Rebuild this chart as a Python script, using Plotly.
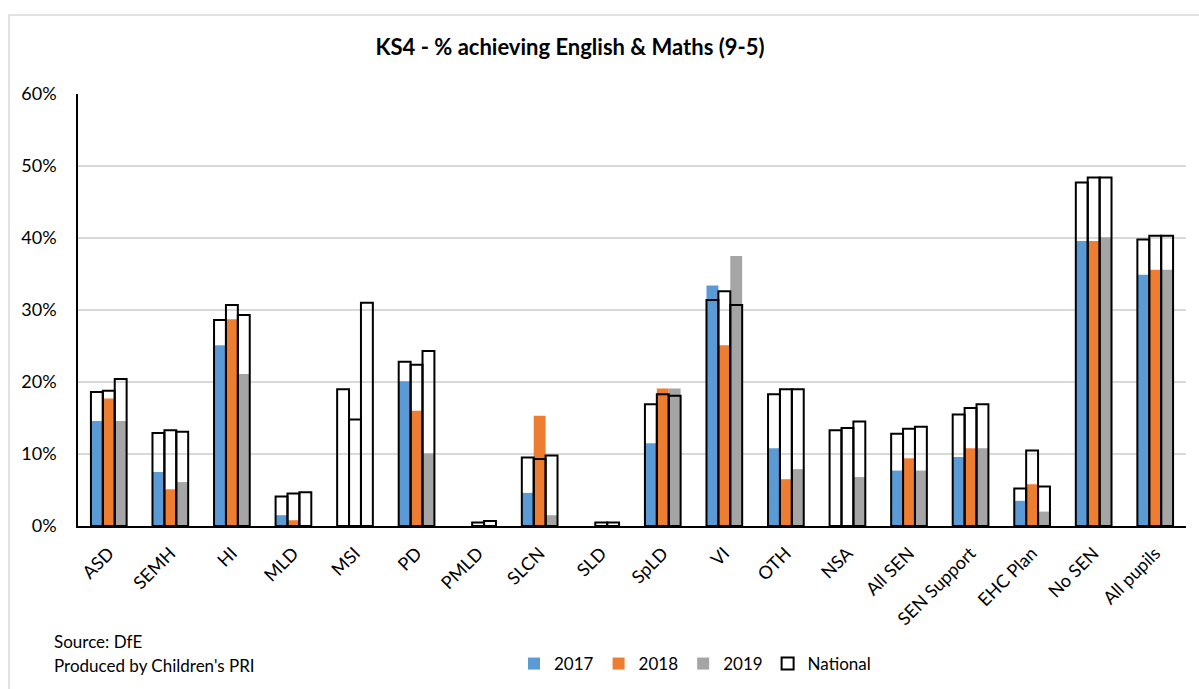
import plotly.graph_objects as go

categories = ["ASD", "SEMH", "HI", "MLD", "MSI", "PD", "PMLD", "SLCN", "SLD", "SpLD",
              "VI", "OTH", "NSA", "All SEN", "SEN Support", "EHC Plan", "No SEN", "All pupils"]

y2017 = [14.6, 7.5, 25.1, 1.5, None, 20.1, None, 4.6, None, 11.5, 33.4, 10.8, None, 7.7, 9.6, 3.5, 39.6, 34.9]
y2018 = [17.7, 5.1, 28.7, 0.8, None, 16.0, None, 15.3, None, 19.1, 25.1, 6.5, None, 9.4, 10.8, 5.8, 39.6, 35.6]
y2019 = [14.6, 6.1, 21.1, None, None, 10.1, None, 1.5, None, 19.1, 37.5, 7.9, 6.8, 7.7, 10.8, 2.0, 40.1, 35.6]
nat2017 = [18.6, 12.9, 28.6, 4.1, 19.0, 22.8, None, 9.5, None, 16.9, 31.4, 18.3, 13.3, 12.8, 15.5, 5.2, 47.7, 39.8]
nat2018 = [18.8, 13.3, 30.7, 4.5, 14.8, 22.4, 0.5, 9.3, 0.5, 18.3, 32.6, 19.0, 13.6, 13.5, 16.4, 10.5, 48.4, 40.3]
nat2019 = [20.4, 13.1, 29.3, 4.7, 31.0, 24.3, 0.7, 9.8, 0.5, 18.1, 30.7, 19.0, 14.5, 13.8, 16.9, 5.5, 48.4, 40.3]

series_names = ["2017", "2018", "2019"]
series_vals = [y2017, y2018, y2019]
national_vals = [nat2017, nat2018, nat2019]
colors = ["#5b9bd5", "#ed7d31", "#a5a5a5"]

FONT = "Lato"
W, H = 1199, 689
ML, MR, MT, MB = 78, 13, 94, 163
PW = W - ML - MR
PH = H - MT - MB


def px_x(p):
    return (p - ML) / PW


def px_y(p):
    return (H - MB - p) / PH


fig = go.Figure()
for name, vals, col in zip(series_names, series_vals, colors):
    fig.add_trace(go.Bar(
        x=categories, y=vals, name=name, offsetgroup=name,
        marker=dict(color=col, line=dict(width=0)),
        legendgroup=name,
    ))
for i, (name, vals) in enumerate(zip(series_names, national_vals)):
    fig.add_trace(go.Bar(
        x=categories, y=vals, name="National", offsetgroup=name,
        marker=dict(color="rgba(255,255,255,0)", line=dict(color="black", width=2)),
        legendgroup="National", showlegend=(i == 0),
    ))

fig.update_layout(
    width=W, height=H,
    margin=dict(l=ML, r=MR, t=MT, b=MB, autoexpand=False),
    paper_bgcolor="white", plot_bgcolor="white",
    barmode="group", bargap=0.42, bargroupgap=0,
    font=dict(family=FONT, size=18, color="#000000"),
    title=dict(
        text="<b>KS4 - % achieving English & Maths (9-5)</b>",
        x=px_x(570), xref="paper", xanchor="center",
        y=1 - 47 / H, yref="container", yanchor="middle",
        font=dict(family=FONT, size=22, color="#000000"),
    ),
    legend=dict(
        orientation="h", x=px_x(695), xanchor="center",
        y=px_y(664), yanchor="middle",
        font=dict(family=FONT, size=17, color="#000000"),
        traceorder="normal", itemwidth=30, bgcolor="rgba(0,0,0,0)",
    ),
    xaxis=dict(
        tickangle=-45, showgrid=False, showline=True, linecolor="black", linewidth=1.5,
        ticks="", tickfont=dict(family=FONT, size=18, color="#000000"),
        ticklabelstandoff=8,
        range=[-0.5, len(categories) - 0.5],
    ),
    yaxis=dict(
        range=[0, 60], dtick=10, ticksuffix="%", showgrid=True, gridcolor="#d9d9d9",
        gridwidth=1.5, showline=True, linecolor="black", linewidth=1.5, ticks="",
        zeroline=False, tickfont=dict(family=FONT, size=18, color="#000000"),
        ticklabelstandoff=16,
    ),
    shapes=[dict(
        type="rect", xref="paper", yref="paper",
        x0=px_x(9), x1=px_x(1240), y0=px_y(720), y1=px_y(15),
        line=dict(color="#d9d9d9", width=1.5), fillcolor="rgba(0,0,0,0)", layer="below",
    )],
    annotations=[
        dict(text="Source: DfE", xref="paper", yref="paper", x=px_x(52), y=px_y(641),
             xanchor="left", yanchor="middle", showarrow=False,
             font=dict(family=FONT, size=17, color="#000000")),
        dict(text="Produced by Children's PRI", xref="paper", yref="paper", x=px_x(52), y=px_y(665),
             xanchor="left", yanchor="middle", showarrow=False,
             font=dict(family=FONT, size=17, color="#000000")),
    ],
)

fig.write_html("out.html")
